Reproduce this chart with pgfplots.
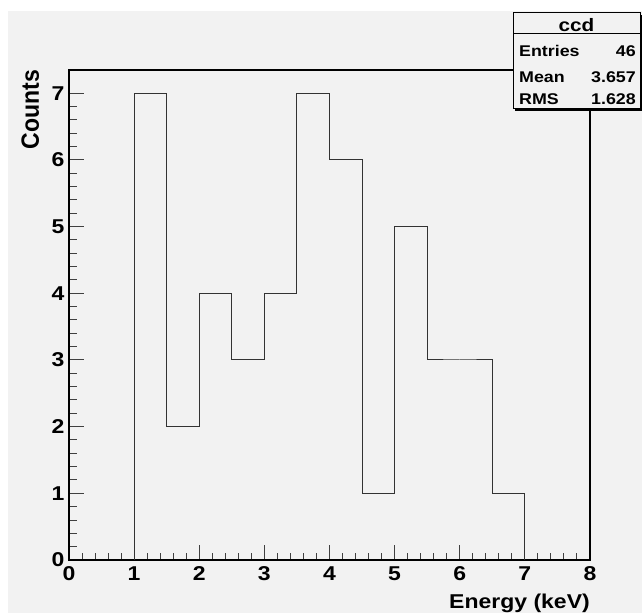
\documentclass[border=0pt]{standalone}
\usepackage{fontspec}
\setmainfont{Liberation Sans}[FakeStretch=1.15]
\usepackage{graphicx}
\usepackage{pgfplots}
\pgfplotsset{compat=1.18}
\definecolor{rootbg}{HTML}{F2F2F2}
\definecolor{histline}{HTML}{333333}
\begin{document}
\begin{tikzpicture}
\useasboundingbox (0,0) rectangle (642pt,613pt);
\fill[white] (0,0) rectangle (642pt,613pt);
\fill[rootbg] (8pt,0) rectangle (642pt,602pt);
\begin{axis}[at={(69pt,53pt)}, anchor=south west, scale only axis,
  width=521pt, height=490pt,
  xmin=0, xmax=8, ymin=0, ymax=7.35,
  xtick={0,1,2,3,4,5,6,7,8}, ytick={0,1,2,3,4,5,6,7},
  minor x tick num=4, minor y tick num=4,
  tick align=inside, xtick pos=left, ytick pos=left,
  major tick length=15pt, minor tick length=7.5pt,
  axis line style={line width=1.3pt, black},
  every tick/.style={line width=1pt, black!75},
  tick label style={font=\fontsize{20}{20}\selectfont\bfseries},
  xticklabel style={yshift=-3pt},
  yticklabel style={xshift=-1pt},
  /pgf/number format/assume math mode=true,
  xlabel={Energy (keV)}, ylabel={\scalebox{1}[1.25]{Counts}},
  label style={font=\fontsize{20}{20}\selectfont\bfseries},
  x label style={at={(axis description cs:1,-0.098)}, anchor=base east, inner sep=0pt},
  y label style={at={(axis description cs:-0.0576,1)}, anchor=base east, inner sep=0pt},
  clip=false]
\addplot[const plot mark left, histline, line width=1pt, mark=none] coordinates {
(1,0) (1,7) (1.5,2) (2,4) (2.5,3) (3,4) (3.5,7) (4,6) (4.5,1) (5,5) (5.5,3) (6,3) (6.5,1) (7,0)
};
\end{axis}
\fill[black] (515pt,502pt) rectangle (642pt,598pt);
\filldraw[fill=rootbg, draw=black, line width=1pt] (513pt,504pt) rectangle (640pt,600pt);
\draw[line width=1pt] (513pt,579pt) -- (640pt,579pt);
\node[anchor=base, font=\fontsize{18}{18}\selectfont\bfseries, inner sep=0pt] at (576.5pt,581pt) {ccd};
\begin{scope}[every node/.style={font=\fontsize{15.5}{15.5}\selectfont\bfseries, inner sep=0pt}]
\node[anchor=base west] at (519pt,556pt) {Entries};
\node[anchor=base east] at (636pt,556pt) {46};
\node[anchor=base west] at (519pt,530pt) {Mean};
\node[anchor=base east] at (636pt,530pt) {3.657};
\node[anchor=base west] at (519pt,508pt) {RMS};
\node[anchor=base east] at (636pt,508pt) {1.628};
\end{scope}
\end{tikzpicture}
\end{document}
